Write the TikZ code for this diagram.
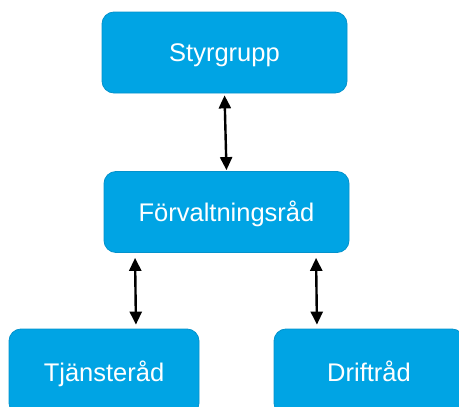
\documentclass[tikz,border=0pt]{standalone}
\usepackage{fontspec}
\setmainfont{Liberation Sans}
\usepackage{xcolor}
\usepackage{tikz}
\usetikzlibrary{arrows.meta, positioning, calc}
\definecolor{boxblue}{HTML}{00A4E4}
\definecolor{boxedge}{HTML}{0392CC}

\begin{document}
\begin{tikzpicture}[
    x=1pt, y=-1pt,
    council/.style={rectangle, draw=boxedge, line width=0.8pt, fill=boxblue, rounded corners=12pt, minimum height=81pt, text=white, text height=18.5pt, text depth=0pt, font=\fontsize{25.5}{29}\selectfont},
    link/.style={{Triangle[width=12pt,length=13pt]}-{Triangle[width=12pt,length=13pt]}, line width=2.4pt, black}
]
\useasboundingbox (0,0) rectangle (459,407);
\clip (0,0) rectangle (459,407);

\node[council, minimum width=245pt] (styr) at (224.5,52.5) {Styrgrupp};
\node[council, minimum width=245pt] (forv) at (226.5,212) {Förvaltningsråd};

\node[council, minimum width=190pt, minimum height=86pt] (tjanst) at (104,372) {Tjänsteråd};
\node[council, minimum width=190pt, minimum height=86pt] (drift) at (369,372) {Driftråd};

\draw[link, shorten <=2pt, shorten >=1pt] (styr.south) -- (forv.north);
\draw[link, shorten <=5pt, shorten >=4pt] ([xshift=-91.5pt]forv.south) -- ([xshift=32pt]tjanst.north);
\draw[link, shorten <=5pt, shorten >=4pt] ([xshift=89.5pt]forv.south) -- ([xshift=-52pt]drift.north);

\end{tikzpicture}
\end{document}
